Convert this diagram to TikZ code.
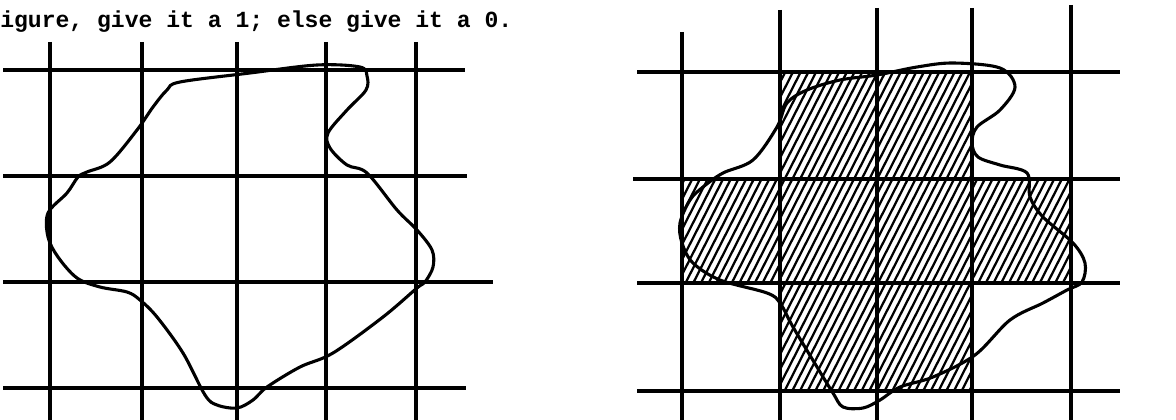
\documentclass[tikz,border=0pt]{standalone}
\usepackage{fontspec}
\setmonofont{Liberation Mono}
\usetikzlibrary{calc}

\tikzset{
  gridline/.style={line width=2.5pt},
  blob/.style={line width=2.2pt, line join=round},
  hatch/.style={line width=1.6pt},
}

\begin{document}
\begin{tikzpicture}[x=0.025cm, y=-0.025cm]
  \useasboundingbox (0,0) rectangle (1176,420);
  % caption line
  \node[anchor=base west, inner sep=0pt, font=\ttfamily\bfseries\fontsize{16.4pt}{18pt}\selectfont] (caption) at (0,28)
        {igure, give it a 1; else give it a 0.};

  % left grid
  \foreach \x in {50,142,237,326,416} \draw[gridline] (\x,42) -- (\x,420);
  \foreach \y/\e in {70/465, 176/467, 282/493, 388/466} \draw[gridline] (3,\y) -- (\e,\y);
  \draw[blob] plot[smooth cycle, tension=0.55] coordinates {
    (180,82) (250,73) (317,65) (360,67) (367,76) (366,90) (347,110) (328,133)
    (330,148) (347,165) (367,173) (397,210) (417,230) (432,250) (433,267)
    (425,282) (417,288) (383,317) (333,353) (300,367) (267,387) (253,400)
    (237,408) (217,405) (205,395) (183,353) (157,317) (140,300) (127,292)
    (100,287) (77,278) (58,257) (48,237) (48,213) (67,193) (78,177) (87,172)
    (110,162) (137,130) (153,107) (167,90)};

  % right grid, cells set to 1 are hatched
  \begin{scope}
    \clip (780,72) rectangle (972,391) (682,179) rectangle (1071,283);
    \foreach \k in {515,522.7,...,1075} \draw[hatch] (\k,391) -- ++(162.5,-319);
  \end{scope}
  \foreach \x/\t in {682/32, 780/10, 877/8, 972/8, 1071/5} \draw[gridline] (\x,\t) -- (\x,420);
  \foreach \y/\s in {72/637, 179/633, 283/637, 391/637} \draw[gridline] (\s,\y) -- (1120,\y);
  \draw[blob] plot[smooth cycle, tension=0.55] coordinates {
    (917,67) (953,63) (1000,68) (1015,87) (1000,110) (977,127) (972,143)
    (978,157) (1000,165) (1027,173) (1030,197) (1043,217) (1073,243)
    (1085,263) (1082,282) (1067,290) (1043,303) (1010,320) (975,355)
    (933,377) (900,387) (880,400) (863,408) (843,407) (833,393) (817,367)
    (793,327) (780,303) (767,293) (720,280) (693,263) (682,243) (680,223)
    (690,200) (703,187) (723,173) (753,160) (777,127) (787,103) (807,90)
    (840,80) (877,75)};
\end{tikzpicture}
\end{document}
